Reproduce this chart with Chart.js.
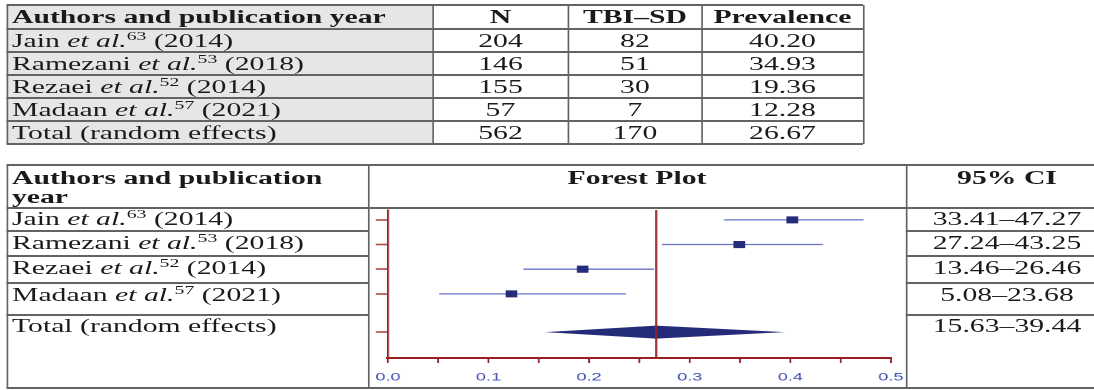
<!DOCTYPE html>
<html>
<head>
<meta charset="utf-8">
<title>TBI–SD prevalence: forest plot</title>
<script src="https://cdn.jsdelivr.net/npm/chart.js@4.4.1/dist/chart.umd.min.js"></script>
<style>
  html, body { margin: 0; padding: 0; background: #ffffff; overflow: hidden; }
  #wrap {
    position: absolute; left: 0; top: 0; width: 690px; height: 390px;
    transform: scaleX(1.65); transform-origin: 0 0;
    font-family: "Liberation Serif", "Times New Roman", serif;
    font-size: 18px; color: #1a1a1a;
  }
  #wrap .cell { position: absolute; height: 26px; line-height: 26px; white-space: nowrap; }
  #wrap .sup { font-size: 12px; position: relative; top: -7px; }
  #wrap b { font-weight: bold; }
</style>
</head>
<body>
<div id="wrap"></div>
<script>
// ---- study data ----
const studyNames   = ['Jain', 'Ramezani', 'Rezaei', 'Madaan'];
const studyRefs    = ['63', '53', '52', '57'];
const studyYears   = ['2014', '2018', '2014', '2021'];
const totalLabel   = 'Total (random effects)';
const sampleN      = [204, 146, 155, 57];
const totalN       = 562;
const tbiSdCases   = [82, 51, 30, 7];
const totalCases   = 170;
const prevalence   = [40.20, 34.93, 19.36, 12.28];
const pooledPrev   = 26.67;
const ciLow        = [33.41, 27.24, 13.46, 5.08];
const ciHigh       = [47.27, 43.25, 26.46, 23.68];
const pooledCi     = [15.63, 39.44];
const summaryHeads = ['Authors and publication year', 'N', 'TBI–SD', 'Prevalence'];
const xTickLabels  = ['0.0', '0.1', '0.2', '0.3', '0.4', '0.5'];

// ---- layout helpers (screen pixels; the page is stretched horizontally) ----
const S = 1.65;
const u = v => v / S;
const wrap = document.getElementById('wrap');
const LINE = '#636363';

function box(x1, y1, x2, y2, color) {
  const d = document.createElement('div');
  Object.assign(d.style, {
    position: 'absolute', left: u(x1) + 'px', top: y1 + 'px',
    width: u(x2 - x1) + 'px', height: (y2 - y1) + 'px', background: color
  });
  wrap.appendChild(d);
  return d;
}
const hline = (x1, x2, y, w = 1.5) => box(x1, y - w / 2, x2, y + w / 2, LINE);
const vline = (x, y1, y2, w = 1.7) => box(x - w / 2, y1, x + w / 2, y2, LINE);

function text(html, x, cy, align, bold) {
  const d = document.createElement('div');
  d.className = 'cell';
  d.innerHTML = bold ? '<b>' + html + '</b>' : html;
  d.style.top = (cy - 13) + 'px';
  if (align === 'center') {
    d.style.left = u(x - 300) + 'px';
    d.style.width = u(600) + 'px';
    d.style.textAlign = 'center';
  } else {
    d.style.left = u(x) + 'px';
  }
  wrap.appendChild(d);
  return d;
}

const authorHtml = i =>
  studyNames[i] + ' <i>et al.</i><span class="sup">' + studyRefs[i] + '</span> (' + studyYears[i] + ')';
const f2 = v => v.toFixed(2);

// ---- summary table ----
(function summaryTable() {
  const cols = [7, 433, 568, 702, 863];
  const rows = [5, 29, 52, 75, 98, 121, 144];
  box(cols[0], rows[0], cols[1], rows[rows.length - 1], '#e6e6e6');
  rows.forEach(y => hline(cols[0], cols[cols.length - 1], y));
  cols.forEach(x => vline(x, rows[0], rows[rows.length - 1]));
  const mid = k => (cols[k] + cols[k + 1]) / 2;
  const rowC = r => (rows[r] + rows[r + 1]) / 2;

  text(summaryHeads[0], 12, rowC(0), 'left', true);
  for (let k = 1; k < 4; k++) text(summaryHeads[k], mid(k), rowC(0), 'center', true);

  const body = studyNames.map((_, i) => [authorHtml(i), sampleN[i], tbiSdCases[i], f2(prevalence[i])]);
  body.push([totalLabel, totalN, totalCases, f2(pooledPrev)]);
  body.forEach((r, i) => {
    text(r[0], 12, rowC(i + 1), 'left');
    for (let k = 1; k < 4; k++) text(String(r[k]), mid(k), rowC(i + 1), 'center');
  });
})();

// ---- forest plot table frame ----
const frame = { left: 7, split1: 368, split2: 906, right: 1120, top: 165, head: 208, bottom: 388 };
(function forestFrame() {
  hline(frame.left, frame.right, frame.top);
  hline(frame.left, frame.right, frame.head);
  hline(frame.left, frame.right, frame.bottom);
  [231, 256, 283, 315].forEach(y => {
    hline(frame.left, frame.split1, y);
    hline(frame.split2, frame.right, y);
  });
  [frame.left, frame.split1, frame.split2].forEach(x => vline(x, frame.top, frame.bottom));

  text('Authors and publication', 12, 178, 'left', true);
  text('year', 12, 197, 'left', true);
  text('Forest Plot', (frame.split1 + frame.split2) / 2, 178, 'center', true);
  text('95% CI', 1007, 178, 'center', true);

  const rowText = [219, 243, 268, 295];
  studyNames.forEach((_, i) => {
    text(authorHtml(i), 12, rowText[i], 'left');
    text(f2(ciLow[i]) + '–' + f2(ciHigh[i]), 1007, rowText[i], 'center');
  });
  text(totalLabel, 12, 326, 'left');
  text(f2(pooledCi[0]) + '–' + f2(pooledCi[1]), 1007, 326, 'center');
})();

// ---- forest plot (Chart.js) ----
// transparent canvas, a little larger than the plot cell so tick-label overflow never moves the plot area
const canvasBox = { left: 340, top: 190, width: 590, height: 198 };
const plotBox   = { left: 388, right: 891, top: 210, bottom: 358 };
const rowSlots  = [1, 2, 3, 4];
const pooledSlot = 5.55;
const yMin = 0.6, yMax = 6.6;

const canvas = document.createElement('canvas');
const cw = Math.round(u(canvasBox.width));
canvas.width = cw;
canvas.height = canvasBox.height;
Object.assign(canvas.style, {
  position: 'absolute', left: u(canvasBox.left) + 'px', top: canvasBox.top + 'px'
});
wrap.appendChild(canvas);

// target plot-area edges in canvas units
const want = {
  left: u(plotBox.left - canvasBox.left),
  right: u(plotBox.right - canvasBox.left),
  top: plotBox.top - canvasBox.top,
  bottom: plotBox.bottom - canvasBox.top
};
const fitState = {
  yAxisWidth: want.left,
  xAxisHeight: canvasBox.height - want.bottom,
  pad: { top: want.top, right: cw - want.right, left: 0, bottom: 0 }
};

const AXIS_RED = '#9a1f22';
const NAVY = '#242b78';
const CI_BLUE = '#6a72cc';

const ciDatasets = studyNames.map((name, i) => ({
  label: name + ' CI',
  data: [{ x: ciLow[i] / 100, y: rowSlots[i] }, { x: ciHigh[i] / 100, y: rowSlots[i] }],
  showLine: true, borderColor: CI_BLUE, borderWidth: 1.3,
  pointRadius: 0, order: 2
}));

const diamondPlugin = {
  id: 'pooledDiamond',
  beforeDatasetsDraw(chart) {
    const { ctx, scales: { x, y } } = chart;
    const xl = x.getPixelForValue(pooledCi[0] / 100);
    const xc = x.getPixelForValue(pooledPrev / 100);
    const xr = x.getPixelForValue(pooledCi[1] / 100);
    const yc = y.getPixelForValue(pooledSlot);
    const h = 6.5;
    ctx.save();
    ctx.beginPath();
    ctx.moveTo(xl, yc);
    ctx.lineTo(xc, yc - h);
    ctx.lineTo(xr, yc);
    ctx.lineTo(xc, yc + h);
    ctx.closePath();
    ctx.fillStyle = NAVY;
    ctx.fill();
    ctx.restore();
  }
};

const chart = new Chart(canvas, {
  type: 'scatter',
  data: {
    datasets: [
      {
        label: 'Prevalence',
        data: prevalence.map((p, i) => ({ x: p / 100, y: rowSlots[i] })),
        pointStyle: 'rect', pointRadius: 5, pointBorderWidth: 0,
        backgroundColor: NAVY, borderColor: NAVY, order: 0
      },
      {
        label: 'Pooled estimate',
        data: [{ x: pooledPrev / 100, y: yMin }, { x: pooledPrev / 100, y: yMax }],
        showLine: true, borderColor: AXIS_RED, borderWidth: 1.2,
        pointRadius: 0, order: 1
      },
      ...ciDatasets
    ]
  },
  options: {
    responsive: false,
    animation: false,
    devicePixelRatio: 2,
    events: [],
    layout: { padding: fitState.pad },
    plugins: { legend: { display: false }, tooltip: { enabled: false } },
    scales: {
      x: {
        type: 'linear', min: 0, max: 0.5,
        afterBuildTicks(scale) {
          scale.ticks = Array.from({ length: 11 }, (_, k) => ({ value: k * 0.05 }));
        },
        afterFit(scale) { scale.height = fitState.xAxisHeight; },
        ticks: {
          autoSkip: false, maxRotation: 0, padding: 8,
          color: '#3b4bb0',
          font: { family: '"Liberation Sans", Arial, sans-serif', size: 11 },
          callback(v) {
            const k = Math.round(v * 10);
            return Math.abs(v * 10 - k) < 1e-6 ? xTickLabels[k] : '';
          }
        },
        grid: { drawOnChartArea: false, drawTicks: true, tickLength: 5, tickColor: AXIS_RED, tickWidth: 1.1 },
        border: { display: true, color: AXIS_RED, width: 2 }
      },
      y: {
        type: 'linear', reverse: true, min: yMin, max: yMax,
        afterBuildTicks(scale) {
          scale.ticks = rowSlots.concat([pooledSlot]).map(v => ({ value: v }));
        },
        afterFit(scale) { scale.width = fitState.yAxisWidth; },
        ticks: { display: false },
        grid: { drawOnChartArea: false, drawTicks: true, tickLength: u(12), tickColor: '#b04848', tickWidth: 1.6 },
        border: { display: true, color: AXIS_RED, width: 1.2 }
      }
    }
  },
  plugins: [diamondPlugin]
});

// small correction pass so the plot area sits exactly on its target edges
for (let pass = 0; pass < 2; pass++) {
  const ca = chart.chartArea;
  fitState.yAxisWidth += want.left - ca.left;
  fitState.pad.right += ca.right - want.right;
  fitState.pad.top += want.top - ca.top;
  fitState.xAxisHeight += ca.bottom - want.bottom;
  chart.options.layout.padding = fitState.pad;
  chart.update('none');
}
</script>
</body>
</html>
